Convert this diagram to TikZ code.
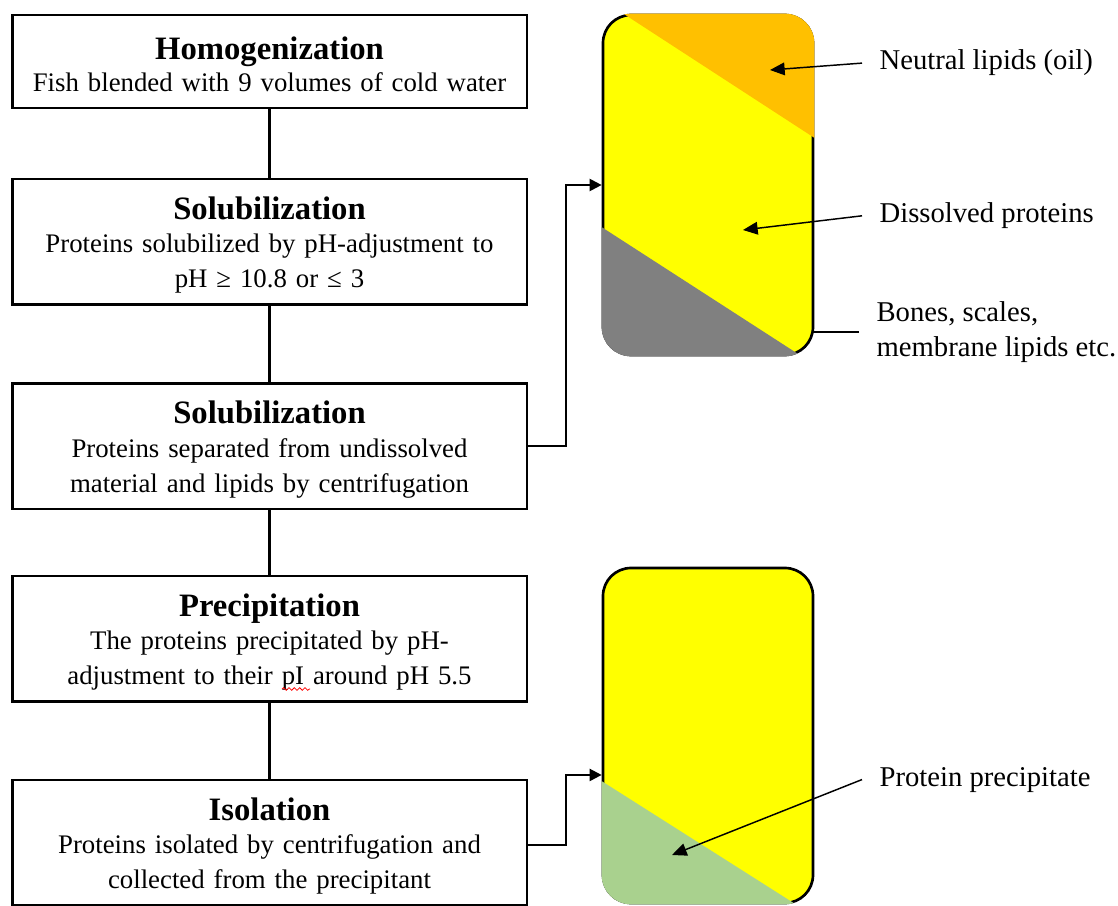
\documentclass[tikz,border=0pt]{standalone}
\usepackage{fontspec}
\setmainfont{Liberation Serif}
\usetikzlibrary{arrows.meta,decorations.pathmorphing}

\definecolor{tankyellow}{HTML}{FFFF00}
\definecolor{oilorange}{HTML}{FFC000}
\definecolor{bonegray}{HTML}{808080}
\definecolor{precipgreen}{HTML}{A9D18E}

% title line with a fixed top strut, and a fixed depth for the last line
\newcommand{\steptitle}[2][23pt]{{\fontsize{24.5}{26.25}\selectfont\bfseries\rule{0pt}{#1}#2}}
\newcommand{\stepend}{\rule[-5pt]{0pt}{5pt}}

\tikzset{
  stepbox/.style={draw, line width=2pt, minimum width=386pt, text width=370pt,
    align=center, inner sep=0pt, font=\fontsize{20.1}{26.25}\selectfont},
  link/.style={line width=2pt},
  feed/.style={line width=1.6pt, -{Triangle[length=9pt,width=9pt]}},
  tank/.style={draw, line width=2pt, rounded corners=21pt, fill=tankyellow,
    minimum width=157.5pt, minimum height=#1},
  tag/.style={font=\fontsize{21.5}{26.25}\selectfont, align=left, anchor=west,
    inner xsep=13pt, inner ysep=0pt},
  callout/.style={line width=1.1pt, -{Triangle[length=11pt,width=9.5pt]}},
}

\begin{document}
\begin{tikzpicture}[x=0.75pt, y=-0.75pt]
  \useasboundingbox (0,0) rectangle (1118,906);

  % process steps
  \node[stepbox, minimum height=69.75pt] (homog) at (269.5,61.5)
    {\steptitle[25.75pt]{Homogenization}\\[-1.95pt] Fish blended with 9 volumes of cold water\stepend};
  \node[stepbox, minimum height=94.1pt] (solub) at (269.5,241.75)
    {\steptitle{Solubilization}\\[-1.15pt] Proteins solubilized by pH-adjustment to\\ pH ≥ 10.8 or ≤ 3\stepend};
  \node[stepbox, minimum height=94.1pt] (separ) at (269.5,446.2)
    {\steptitle{Solubilization}\\[-1.15pt] Proteins separated from undissolved\\ material and lipids by centrifugation\stepend};
  \node[stepbox, minimum height=94.1pt] (precip) at (269.5,638.75)
    {\steptitle{Precipitation}\\[-1.15pt] The proteins precipitated by pH-\\ adjustment to their pI around pH 5.5\stepend};
  \node[stepbox, minimum height=94.1pt] (isol) at (269.5,842.75)
    {\steptitle{Isolation}\\[-1.15pt] Proteins isolated by centrifugation and\\ collected from the precipitant\stepend};

  % spell-check mark under pI
  \draw[red, line width=0.6pt, decorate, decoration={snake, amplitude=1pt, segment length=4pt}]
    (282,689) -- (310,689);

  \draw[link] (homog) -- (solub);
  \draw[link] (solub) -- (separ);
  \draw[link] (separ) -- (precip);
  \draw[link] (precip) -- (isol);

  % tanks
  \node[tank=255pt] (tankA) at (708,185) {};
  \begin{scope}
    \clip[rounded corners=22pt] (tankA.north west) rectangle (tankA.south east);
    \fill[oilorange] (590,-8) -- (830,148) -- (830,-10) -- (590,-10) -- cycle;
    \fill[bonegray] (590,219.6) -- (830,374.6) -- (830,380) -- (590,380) -- cycle;
  \end{scope}

  \node[tank=251.25pt] (tankB) at (708,735.5) {};
  \begin{scope}
    \clip[rounded corners=22pt] (tankB.north west) rectangle (tankB.south east);
    \fill[precipgreen] (590,773.7) -- (830,926.1) -- (830,930) -- (590,930) -- cycle;
  \end{scope}

  \draw[feed] (separ.east) -- ++(38,0) |- (tankA.west);
  \draw[feed] ([yshift=-1.5pt]isol.east) -- ++(38,0) |- ([yshift=-29.6pt]tankB.west);

  % labels
  \coordinate (oilpt) at (770,70);
  \coordinate (protpt) at (743,230);
  \coordinate (precpt) at (672,855);

  \node[tag, anchor=base west] (oilnote) at (862,70) {Neutral lipids (oil)};
  \node[tag, anchor=base west] (protnote) at (862,222.7) {Dissolved proteins};
  \node[tag] (bonenote) at (859,332) {Bones, scales,\\membrane lipids etc.};
  \node[tag, anchor=base west] (precnote) at (862,786) {Protein precipitate};

  \draw[callout] (oilnote.west) -- (oilpt);
  \draw[callout] (protnote.west) -- (protpt);
  \draw[line width=1.1pt] (bonenote.west) -- (bonenote.west -| tankA.east);
  \draw[callout] (precnote.west) -- (precpt);
\end{tikzpicture}
\end{document}
